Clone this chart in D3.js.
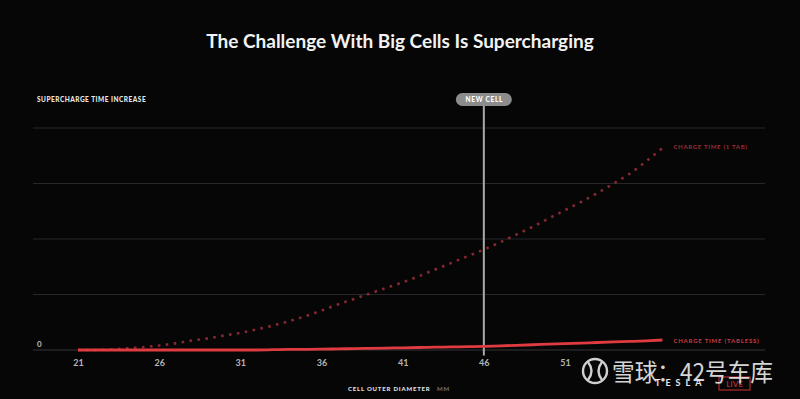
<!DOCTYPE html>
<html>
<head>
<meta charset="utf-8">
<script src="https://cdn.jsdelivr.net/npm/d3@7"></script>
<style>
  body { margin: 0; background: #060607; }
  svg { display: block; }
</style>
</head>
<body>
<div id="chart"></div>
<script>
// data (value in grid steps above baseline)
const diameters = [21, 22, 23, 24, 25, 26, 27, 28, 29, 30, 31, 32, 33, 34, 35, 36, 37, 38, 39,
  40, 41, 42, 43, 44, 45, 46, 47, 48, 49, 50, 51, 52, 53, 54, 55, 56, 57];
const oneTab = [0, 0, 0.01, 0.03, 0.05, 0.08, 0.12, 0.17, 0.21, 0.26, 0.31, 0.37, 0.44, 0.52,
  0.61, 0.71, 0.82, 0.92, 1.02, 1.12, 1.22, 1.33, 1.45, 1.57, 1.69, 1.81, 1.94, 2.08, 2.22,
  2.37, 2.52, 2.67, 2.83, 3.0, 3.18, 3.4, 3.64];
const tabless = [0, 0, 0, 0, 0, 0, 0, 0, 0, 0, 0, 0, 0.005, 0.01, 0.012, 0.015, 0.02, 0.025,
  0.03, 0.035, 0.04, 0.045, 0.05, 0.055, 0.06, 0.065, 0.075, 0.085, 0.095, 0.105, 0.115,
  0.125, 0.135, 0.145, 0.155, 0.165, 0.18];
const xTicks = [21, 26, 31, 36, 41, 46, 51];
const gridValues = [0, 1, 2, 3, 4];
const newCell = 46;

const W = 800, H = 399;

const svg = d3.select("#chart")
  .append("svg")
    .attr("width", W)
    .attr("height", H);

svg.append("rect")
  .attr("width", W).attr("height", H)
  .attr("fill", "#060607");

// scales
let x = d3.scaleLinear()
  .domain([21, 51])
  .range([78, 565]);

let y = d3.scaleLinear()
  .domain([0, 4])
  .range([350, 128]);

// title
svg.append("text")
  .attr("x", 400)
  .attr("y", 48)
  .attr("text-anchor", "middle")
  .style("font-family", "Lato, 'Open Sans', sans-serif")
  .style("font-weight", "bold")
  .style("font-size", "19px")
  .style("fill", "#f2f2f2")
  .text("The Challenge With Big Cells Is Supercharging");

// gridlines
svg.selectAll(".grid")
  .data(gridValues)
  .enter()
  .append("line")
    .attr("class", "grid")
    .attr("x1", 33)
    .attr("x2", 765)
    .attr("y1", d => y(d))
    .attr("y2", d => y(d))
    .style("stroke", d => d === 0 ? "#34343a" : "#26262b")
    .style("stroke-width", 1);

// y label + zero
svg.append("text")
  .attr("x", 37)
  .attr("y", 102)
  .style("font-family", "Lato, sans-serif")
  .style("font-weight", "900")
  .style("font-size", "6.5px")
  .style("letter-spacing", "0.5px")
  .style("fill", "#e8e8e8")
  .text("SUPERCHARGE TIME INCREASE");

svg.append("text")
  .attr("x", 37)
  .attr("y", 347)
  .style("font-family", "Lato, sans-serif")
  .style("font-weight", "bold")
  .style("font-size", "8px")
  .style("fill", "#bdbdbd")
  .text("0");

// x axis
let xAxis = d3.axisBottom(x).tickValues(xTicks).tickSize(0).tickPadding(0);
let gx = svg.append("g")
  .attr("transform", "translate(0,360)")
  .call(xAxis);
gx.select(".domain").remove();
gx.selectAll("text")
  .style("font-family", "Lato, sans-serif")
  .style("font-weight", "bold")
  .style("font-size", "9px")
  .style("fill", "#b5b5b5");

svg.append("text")
  .attr("x", 348)
  .attr("y", 391)
  .style("font-family", "Lato, sans-serif")
  .style("font-weight", "900")
  .style("font-size", "6px")
  .style("letter-spacing", "0.8px")
  .style("fill", "#e0e0e0")
  .text("CELL OUTER DIAMETER");

svg.append("text")
  .attr("x", 437)
  .attr("y", 391)
  .style("font-family", "Lato, sans-serif")
  .style("font-weight", "bold")
  .style("font-size", "6px")
  .style("letter-spacing", "0.8px")
  .style("fill", "#777")
  .text("MM");

// lines
const line = d3.line()
  .x((d, i) => x(diameters[i]))
  .y(d => y(d))
  .curve(d3.curveMonotoneX);

svg.append("path")
  .datum(oneTab)
  .attr("d", line)
  .attr("fill", "none")
  .style("stroke", "#862832")
  .style("stroke-width", 2.6)
  .style("stroke-dasharray", "2.6,5.4");

// new cell marker
svg.append("line")
  .attr("x1", x(newCell)).attr("x2", x(newCell))
  .attr("y1", 100).attr("y2", y(-0.1))
  .style("stroke", "#a9a9a9")
  .style("stroke-width", 2);

svg.append("path")
  .datum(tabless)
  .attr("d", line)
  .attr("fill", "none")
  .style("stroke", "#df3b40")
  .style("stroke-width", 2.8);

svg.append("rect")
  .attr("x", x(newCell) - 28)
  .attr("y", 93)
  .attr("width", 56)
  .attr("height", 13)
  .attr("rx", 6.5)
  .attr("fill", "#8c8c8c");

svg.append("text")
  .attr("x", x(newCell) + 0.5)
  .attr("y", 101.8)
  .attr("text-anchor", "middle")
  .style("font-family", "Lato, sans-serif")
  .style("font-weight", "900")
  .style("font-size", "6.5px")
  .style("letter-spacing", "0.7px")
  .style("fill", "#ffffff")
  .text("NEW CELL");

// series labels
const last = diameters.length - 1;
svg.append("text")
  .attr("x", x(diameters[last]) + 11)
  .attr("y", 149)
  .style("font-family", "Lato, sans-serif")
  .style("font-weight", "bold")
  .style("font-size", "6px")
  .style("letter-spacing", "0.7px")
  .style("fill", "#9a2f37")
  .text("CHARGE TIME (1 TAB)");

svg.append("text")
  .attr("x", x(diameters[last]) + 11)
  .attr("y", 343)
  .style("font-family", "Lato, sans-serif")
  .style("font-weight", "bold")
  .style("font-size", "6px")
  .style("letter-spacing", "0.8px")
  .style("fill", "#c63d44")
  .text("CHARGE TIME (TABLESS)");

// tesla live mark (partly under the watermark)
svg.append("rect")
  .attr("x", 719).attr("y", 377).attr("width", 31).attr("height", 13)
  .attr("fill", "none").style("stroke", "#b02a30").style("stroke-width", 1.2);
svg.append("text")
  .attr("x", 734.5).attr("y", 387)
  .attr("text-anchor", "middle")
  .style("font-family", "Lato, sans-serif").style("font-weight", "bold")
  .style("font-size", "8px").style("fill", "#b02a30")
  .text("LIVE");
svg.append("text")
  .attr("x", 655).attr("y", 386)
  .style("font-family", "Lato, sans-serif").style("font-weight", "bold")
  .style("font-size", "9px").style("letter-spacing", "5px").style("fill", "#e8e8e8")
  .text("TESLA");

// watermark
const wm = svg.append("g").style("opacity", 0.9);
wm.append("circle")
  .attr("cx", 595).attr("cy", 371).attr("r", 12)
  .attr("fill", "none").style("stroke", "#e6e6e6").style("stroke-width", 2.4);
wm.append("path")
  .attr("d", "M588,362 Q595,371 588,380 M602,362 Q595,371 602,380")
  .attr("fill", "none").style("stroke", "#e6e6e6").style("stroke-width", 2.4);
wm.append("text")
  .attr("x", 612)
  .attr("y", 381)
  .attr("textLength", 161)
  .attr("lengthAdjust", "spacingAndGlyphs")
  .style("font-family", "'Noto Sans CJK SC', sans-serif")
  .style("font-size", "24px")
  .style("fill", "#ececec")
  .text("雪球：42号车库");
</script>
</body>
</html>
